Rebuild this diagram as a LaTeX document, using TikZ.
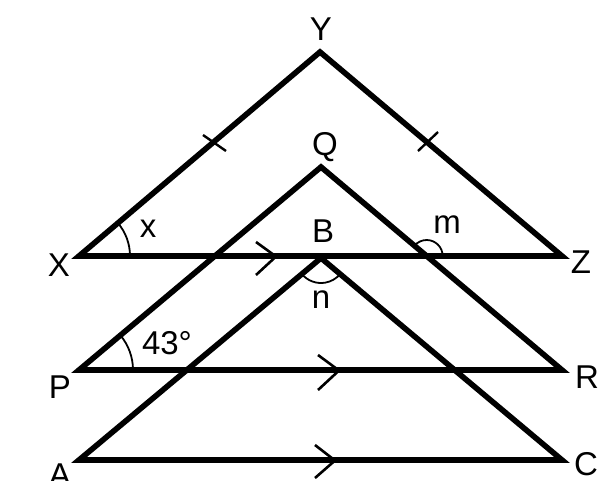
\documentclass[tikz,border=0pt]{standalone}
\usepackage{fontspec}
\setmainfont{Liberation Sans}
\usetikzlibrary{angles}
\begin{document}
\begin{tikzpicture}[x=1pt,y=-1pt,
  tri/.style={line width=5.6pt,line join=miter},
  tickmark/.style={line width=2.4pt},
  chev/.style={line width=2.6pt,line join=miter},
  angarc/.style={draw,line width=1.8pt},
  lbl/.style={anchor=base,inner sep=0pt,font=\fontsize{33}{40}\selectfont}]
\useasboundingbox (0,0) rectangle (604,480);
% vertices
\coordinate (X) at (79,256);
\coordinate (Y) at (320,52);
\coordinate (Z) at (562,256);
\coordinate (P) at (79,370);
\coordinate (Q) at (321,167);
\coordinate (R) at (562,370);
\coordinate (A) at (79,460);
\coordinate (B) at (321,258);
\coordinate (C) at (562,460);
% triangles
\draw[tri] (X) -- (Y) -- (Z) -- cycle;
\draw[tri] (P) -- (Q) -- (R) -- cycle;
\draw[tri] (A) -- (B) -- (C) -- cycle;
\coordinate (M) at (intersection of Q--R and X--Z);
% equal-length ticks
\draw[tickmark] (203,135) -- (226,151);
\draw[tickmark] (418,151) -- (438,132);
% parallel chevrons
\draw[chev] (256,242) -- (276,256.5) -- (256,275);
\draw[chev] (318,355) -- (339,370.5) -- (318,390);
\draw[chev] (315,445) -- (335,460.5) -- (315,478);
% angle arcs
\pic[angarc,angle radius=51pt] {angle=Z--X--Y};
\pic[angarc,angle radius=54pt] {angle=R--P--Q};
\pic[angarc,angle radius=16pt] {angle=Z--M--Q};
\pic[angarc,angle radius=25pt] {angle=A--B--C};
% labels
\node[lbl] (lY) at (321,40) {Y};
\node[lbl] (lQ) at (325,155) {Q};
\node[lbl] (lB) at (323,242) {B};
\node[lbl] (lX) at (59,276) {X};
\node[lbl] (lZ) at (581,273) {Z};
\node[lbl] (lP) at (60,398) {P};
\node[lbl] (lR) at (587,388) {R};
\node[lbl] (lA) at (60,486) {A};
\node[lbl] (lC) at (586,475) {C};
\node[lbl] (lx) at (148,237) {x};
\node[lbl] (lm) at (447,233) {m};
\node[lbl] (ln) at (321,308) {n};
\node[lbl] (l43) at (167,354) {43\textdegree};
\end{tikzpicture}
\end{document}
